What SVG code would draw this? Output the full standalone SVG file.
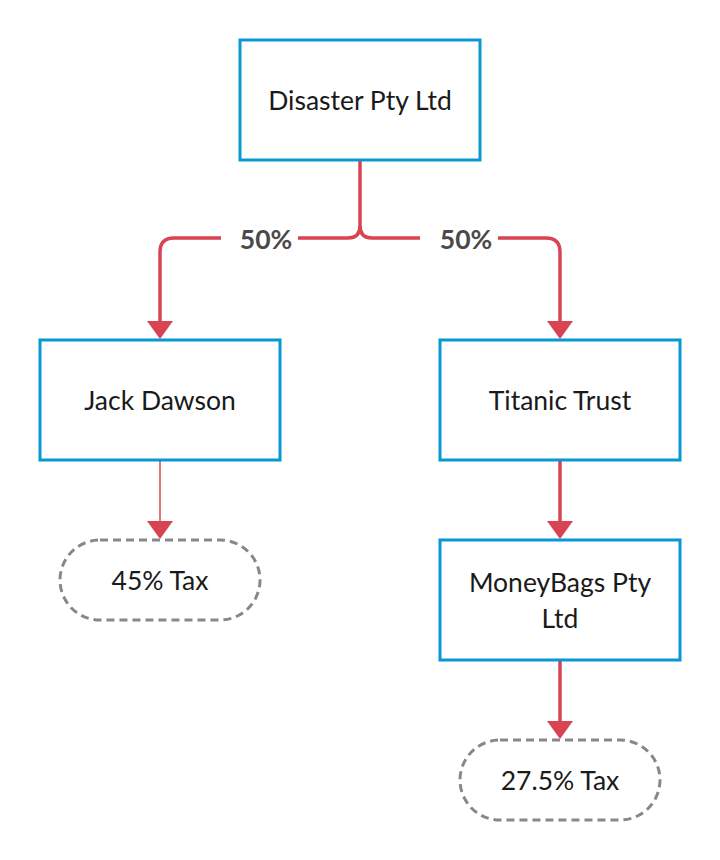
<svg xmlns="http://www.w3.org/2000/svg" width="720" height="860" viewBox="0 0 720 860">
<style>
.box{fill:#fff;stroke:#0b97d1;stroke-width:3}
.pill{fill:#fff;stroke:#888;stroke-width:3;stroke-dasharray:8 5}
.t{font-family:Lato,"Open Sans","Liberation Sans",sans-serif;font-size:26.5px;fill:#1a1a1a;text-anchor:middle;dominant-baseline:central}
.lbl{font-family:Lato,"Open Sans","Liberation Sans",sans-serif;font-size:26.5px;font-weight:bold;fill:#4a4a4a;text-anchor:middle;dominant-baseline:central}
.c{fill:none;stroke:#d84451;stroke-width:3.5}
.thin{fill:none;stroke:#d84451;stroke-width:1.5}
.ah{fill:#d84451}
</style>
<rect width="720" height="860" fill="#fff"/>
<g id="connectors">
<path class="c" d="M360 160 V226 Q360 238 348 238 H298"/>
<path class="c" d="M221 238 H174 Q160 238 160 252 V324"/>
<path class="c" d="M360 226 Q360 238 372 238 H420"/>
<path class="c" d="M498 238 H546 Q560 238 560 252 V324"/>
<polygon class="ah" points="147,321 173,321 160,339"/>
<polygon class="ah" points="547,321 573,321 560,339"/>
<text class="lbl" x="266" y="239">50%</text>
<text class="lbl" x="466" y="239">50%</text>
<path class="thin" d="M160 460 V524"/>
<polygon class="ah" points="147,521 173,521 160,539"/>
<path class="c" d="M560 460 V524"/>
<polygon class="ah" points="547,521 573,521 560,539"/>
<path class="c" d="M560 660 V724"/>
<polygon class="ah" points="547,721 573,721 560,739"/>
</g>
<g id="disaster"><rect class="box" x="240" y="40" width="240" height="120"/><text class="t" x="360" y="100">Disaster Pty Ltd</text></g>
<g id="jack"><rect class="box" x="40" y="340" width="240" height="120"/><text class="t" x="160" y="400">Jack Dawson</text></g>
<g id="titanic"><rect class="box" x="440" y="340" width="240" height="120"/><text class="t" x="560" y="400">Titanic Trust</text></g>
<g id="moneybags"><rect class="box" x="440" y="540" width="240" height="120"/><text class="t" x="560" y="582">MoneyBags Pty</text><text class="t" x="560" y="618">Ltd</text></g>
<g id="tax45"><rect class="pill" x="60" y="540" width="200" height="80" rx="40"/><text class="t" x="160" y="580">45% Tax</text></g>
<g id="tax275"><rect class="pill" x="460" y="740" width="200" height="80" rx="40"/><text class="t" x="560" y="780">27.5% Tax</text></g>
</svg>
